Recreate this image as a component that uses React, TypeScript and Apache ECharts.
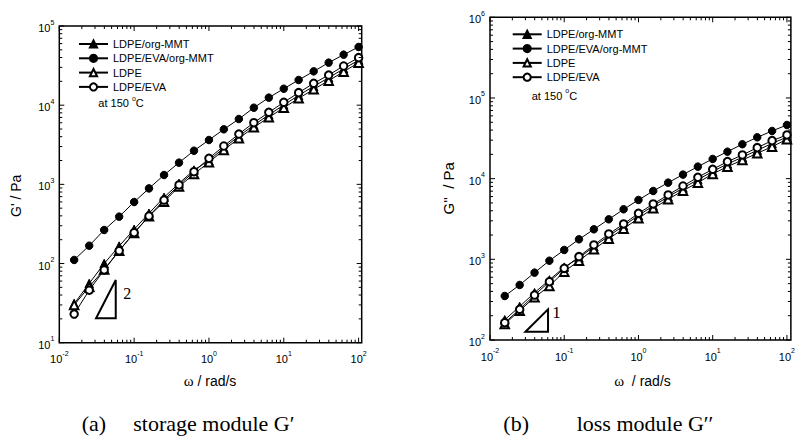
import React, { useEffect, useRef } from 'react';
import * as echarts from 'echarts';

const SANS = 'Arial, "Liberation Sans", Helvetica, sans-serif';
const SERIF = '"Times New Roman", "Liberation Serif", Times, serif';

// angular frequency, rad/s
const omega = [0.0158, 0.0251, 0.0398, 0.0631, 0.1, 0.158, 0.251, 0.398, 0.631, 1, 1.58, 2.51, 3.98, 6.31, 10, 15.8, 25.1, 39.8, 63.1, 100];

const seriesNames = ['LDPE/org-MMT', 'LDPE/EVA/org-MMT', 'LDPE', 'LDPE/EVA'];
const seriesSymbols = ['triangle', 'circle', 'emptyTriangle', 'emptyCircle'];

// (a) storage modulus G' / Pa
const storageLdpeOrgMmt = [31, 56, 100, 166, 270, 431, 685, 1030, 1517, 2000, 2880, 4060, 5600, 7550, 10050, 13300, 17300, 22200, 28800, 37000];
const storageLdpeEvaOrgMmt = [111, 168, 265, 391, 598, 889, 1312, 1879, 2661, 3631, 4955, 6683, 9290, 12450, 16140, 20800, 26730, 34430, 43450, 54330];
const storageLdpe = [30, 51, 84, 145, 243, 395, 604, 936, 1352, 1897, 2716, 3811, 5248, 7022, 9290, 12190, 15850, 20390, 26480, 34430];
const storageLdpeEva = [23, 46, 83, 145, 245, 398, 634, 982, 1445, 2130, 3050, 4320, 6010, 8120, 10860, 14390, 18870, 24040, 31250, 39810];

// (b) loss modulus G'' / Pa
const lossLdpeOrgMmt = [178, 260, 386, 555, 800, 1040, 1440, 1950, 2600, 3500, 4600, 5950, 7650, 9700, 12300, 15200, 18400, 22500, 27300, 32800];
const lossLdpeEvaOrgMmt = [351, 481, 684, 962, 1306, 1770, 2355, 3133, 4169, 5445, 7031, 8920, 11220, 14090, 17540, 21600, 26700, 32530, 38990, 46240];
const lossLdpe = [158, 231, 338, 467, 703, 962, 1330, 1803, 2399, 3221, 4285, 5546, 7102, 8920, 11430, 14090, 17030, 20610, 24930, 30730];
const lossLdpeEva = [164, 240, 361, 528, 773, 1079, 1507, 2061, 2742, 3715, 4853, 6281, 8110, 10400, 13060, 16250, 19650, 24210, 29580, 34770];

const storageData = [storageLdpeOrgMmt, storageLdpeEvaOrgMmt, storageLdpe, storageLdpeEva];
const lossData = [lossLdpeOrgMmt, lossLdpeEvaOrgMmt, lossLdpe, lossLdpeEva];

// axis ranges
const xRanges = [[0.01, 110], [0.01, 113]];
const yRanges = [[10, 1e5], [100, 1e6]];

// slope guide triangles (data coordinates) and their labels
const slopeTriangles = [
  [[0.031, 20.3], [0.0568, 20.3], [0.0568, 61.9]],
  [[0.030, 126.7], [0.0605, 126.7], [0.0605, 240]],
];
const slopeLabels = ['2', '1'];

function logTicks(min: number, max: number) {
  const res: [number, boolean][] = [];
  for (let e = Math.floor(Math.log10(min)); e <= Math.ceil(Math.log10(max)); e++) {
    for (let k = 1; k <= 9; k++) {
      const v = k * Math.pow(10, e);
      if (v >= min * 0.9999 && v <= max * 1.0001) res.push([v, k === 1]);
    }
  }
  return res;
}

const labelFormatter = (v: number) => {
  const l = Math.log10(v);
  const e = Math.round(l);
  if (Math.abs(l - e) > 1e-6) return '';
  return `{b|10}{s|${e}}`;
};

const labelRich = {
  b: { fontSize: 11, lineHeight: 15, verticalAlign: 'bottom', fontFamily: SANS, color: '#000' },
  s: { fontSize: 7, lineHeight: 8, verticalAlign: 'top', fontFamily: SANS, color: '#000' },
};

export default function App() {
  const ref = useRef<HTMLDivElement>(null);
  useEffect(() => {
    const chart = echarts.init(ref.current!, undefined, { renderer: 'svg' });

    const grids = [
      { left: 59.3, top: 26, width: 302.4, height: 316.7 },
      { left: 490, top: 17.3, width: 306.5, height: 322.7 },
    ];

    const xAxes = grids.map((_, i) => ({
      type: 'log', logBase: 10, gridIndex: i, min: xRanges[i][0], max: xRanges[i][1],
      axisLine: { show: false }, axisTick: { show: false }, splitLine: { show: false },
      axisLabel: { formatter: labelFormatter, rich: labelRich, margin: 7, interval: 0 },
    }));
    const yAxes = grids.map((_, i) => ({
      type: 'log', logBase: 10, gridIndex: i, min: yRanges[i][0], max: yRanges[i][1],
      axisLine: { show: false }, axisTick: { show: false }, splitLine: { show: false },
      axisLabel: { formatter: labelFormatter, rich: labelRich, margin: 5, interval: 0 },
    }));

    const lineSeries: any[] = [];
    [storageData, lossData].forEach((set, gi) => {
      set.forEach((vals, si) => {
        const sym = seriesSymbols[si];
        lineSeries.push({
          type: 'line', name: seriesNames[si], xAxisIndex: gi, yAxisIndex: gi,
          data: omega.map((w, k) => [w, vals[k]]),
          symbol: sym, symbolSize: sym.toLowerCase().includes('circle') ? 7.5 : 8.5,
          showSymbol: true, silent: true,
          lineStyle: { color: '#000', width: 1 },
          itemStyle: { color: '#000', borderColor: '#000', borderWidth: 1 },
          emphasis: { disabled: true },
          z: 3,
        });
      });
    });

    const tickSeries = grids.map((_, gi) => {
      const data: number[][] = [];
      logTicks(xRanges[gi][0], xRanges[gi][1]).forEach(([v, major]) => data.push([v, yRanges[gi][0], major ? 0 : 1]));
      logTicks(yRanges[gi][0], yRanges[gi][1]).forEach(([v, major]) => data.push([xRanges[gi][0], v, major ? 2 : 3]));
      return {
        type: 'custom', xAxisIndex: gi, yAxisIndex: gi, silent: true, z: 4,
        encode: { x: 0, y: 1 },
        data,
        renderItem: (params: any, api: any) => {
          const cs = params.coordSys;
          const kind = api.value(2);
          const p = api.coord([api.value(0), api.value(1)]);
          const len = kind % 2 === 0 ? 5 : 3;
          const style = { stroke: '#000', lineWidth: 1 };
          if (kind < 2) {
            const x = p[0];
            return {
              type: 'group', children: [
                { type: 'line', shape: { x1: x, y1: cs.y + cs.height, x2: x, y2: cs.y + cs.height - len }, style },
                { type: 'line', shape: { x1: x, y1: cs.y, x2: x, y2: cs.y + len }, style },
              ],
            };
          }
          const y = p[1];
          return {
            type: 'group', children: [
              { type: 'line', shape: { x1: cs.x, y1: y, x2: cs.x + len, y2: y }, style },
              { type: 'line', shape: { x1: cs.x + cs.width, y1: y, x2: cs.x + cs.width - len, y2: y }, style },
            ],
          };
        },
      };
    });

    const legendBase = {
      orient: 'vertical', itemWidth: 29, itemHeight: 9, itemGap: 3.3, padding: 0,
      data: seriesNames, selectedMode: false,
      textStyle: { fontSize: 11, fontFamily: SANS, color: '#000' },
    };

    chart.setOption({
      animation: false,
      grid: grids.map(g => ({ ...g, show: true, borderColor: '#000', borderWidth: 1.5, backgroundColor: 'transparent' })),
      xAxis: xAxes,
      yAxis: yAxes,
      legend: [
        { ...legendBase, left: 78, top: 38.5 },
        { ...legendBase, left: 511.7, top: 28.8 },
      ],
      series: [...lineSeries, ...tickSeries],
    } as any);

    const graphics: any[] = [];
    const txt = (x: number, y: number, text: string, extra: any = {}, rot = 0) => ({
      type: 'text', x, y, rotation: rot, silent: true, z: 10,
      style: { text, fill: '#000', fontFamily: SANS, fontSize: 14, align: 'center', verticalAlign: 'middle', ...extra },
    });
    // axis titles
    graphics.push(txt(16.3, 195.8, "G' / Pa", {}, Math.PI / 2));
    graphics.push(txt(448.3, 188.3, "G''  / Pa", { fontSize: 15 }, Math.PI / 2));
    graphics.push(txt(210, 381, '{w|ω}{r| / rad/s}', { rich: { w: { fontFamily: SERIF, fontSize: 15 }, r: { fontFamily: SANS, fontSize: 14 } } }));
    graphics.push(txt(642.5, 381, '{w|ω}{r|  / rad/s}', { rich: { w: { fontFamily: SERIF, fontSize: 15 }, r: { fontFamily: SANS, fontSize: 14 } } }));
    // temperature notes
    const tempRich = {
      a: { fontFamily: SANS, fontSize: 11, lineHeight: 14, verticalAlign: 'bottom' },
      s: { fontFamily: SANS, fontSize: 7, lineHeight: 8, verticalAlign: 'top' },
    };
    graphics.push(txt(98.3, 101.7, '{a|at 150 }{s|o}{a|C}', { align: 'left', rich: tempRich }));
    graphics.push(txt(531.7, 94.3, '{a|at 150 }{s|o}{a|C}', { align: 'left', rich: tempRich }));
    // captions
    const cap = { fontFamily: SERIF, fontSize: 22, align: 'left' };
    graphics.push(txt(81.7, 423, '(a)', cap));
    graphics.push(txt(133.3, 423, 'storage module G\u2032', cap));
    graphics.push(txt(503.3, 423, '(b)', cap));
    graphics.push(txt(576.7, 423, 'loss module G\u2032\u2032', cap));
    // slope triangles
    slopeTriangles.forEach((tri, gi) => {
      const pts = tri.map(pt => chart.convertToPixel({ gridIndex: gi } as any, pt) as number[]);
      graphics.push({
        type: 'polygon', silent: true, z: 10,
        shape: { points: pts },
        style: { fill: 'none', stroke: '#000', lineWidth: 2 },
      });
      const xr = pts[2][0];
      const yTop = pts[2][1];
      const yBot = pts[1][1];
      const ly = gi === 0 ? yTop + (yBot - yTop) * 0.34 : yTop + 3.5;
      graphics.push(txt(xr + (gi === 0 ? 7.5 : 4.3), ly, slopeLabels[gi], { fontFamily: SERIF, fontSize: gi === 0 ? 16 : 17, align: 'left' }));
    });

    chart.setOption({ graphic: graphics } as any);

    return () => chart.dispose();
  }, []);

  return <div ref={ref} style={{ position: 'absolute', left: 0, top: 0, width: 798, height: 441 }} />;
}
